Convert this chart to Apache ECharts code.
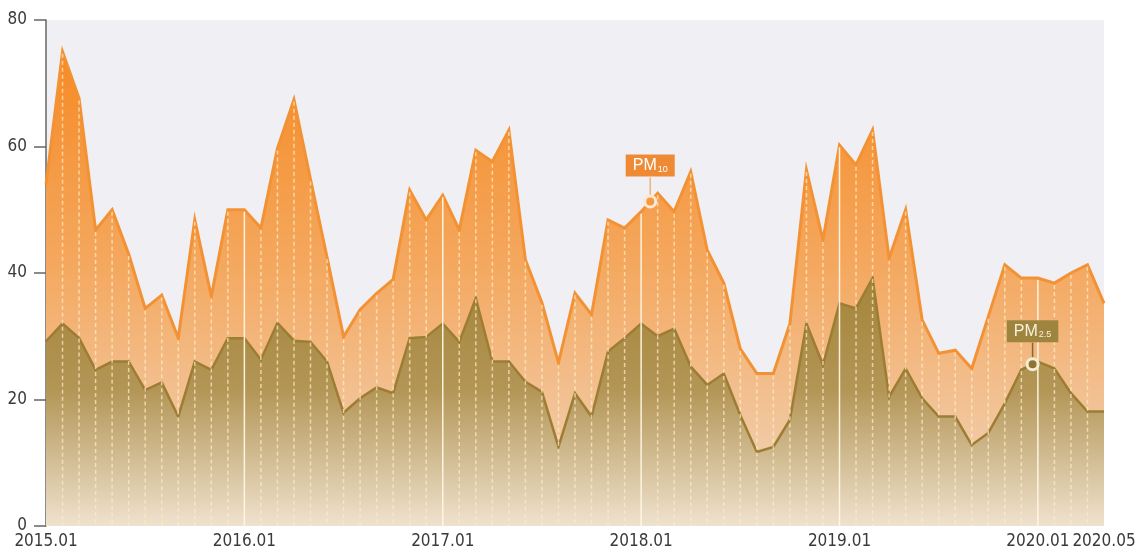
<!DOCTYPE html>
<html>
<head>
<meta charset="utf-8">
<script src="https://cdn.jsdelivr.net/npm/echarts@6/dist/echarts.min.js"></script>
<style>
  html, body { margin: 0; padding: 0; background: #ffffff; }
  #chart { width: 1139px; height: 554px; }
</style>
</head>
<body>
<div id="chart"></div>
<script>
// Monthly labels, 2015.01 – 2020.05
const months = [];
for (let y = 2015; y <= 2020; y++) {
  for (let m = 1; m <= 12; m++) {
    if (y === 2020 && m > 5) break;
    months.push(y + '.' + String(m).padStart(2, '0'));
  }
}

// Monthly mean concentrations (µg/m³)
const pm10 = [
  54, 75, 67.6, 46.8, 50, 43, 34.4, 36.5, 29.7, 48.4, 36.3, 50,
  50, 47.1, 59.7, 67.4, 54.8, 42.5, 29.9, 34.2, 36.8, 39, 53.1, 48.4,
  52.3, 46.8, 59.4, 57.6, 62.6, 42.1, 35.3, 25.8, 36.8, 33.4, 48.4, 47.1,
  49.7, 52.6, 49.7, 56, 43.6, 38.4, 28, 24.1, 24.1, 32, 56.3, 45.2,
  60.2, 57.1, 62.6, 42.3, 50, 32.6, 27.3, 27.8, 24.9, 33.1, 41.3, 39.2,
  39.2, 38.4, 40, 41.3, 35.2
];
const pm25 = [
  29.2, 32, 29.7, 24.7, 26, 26, 21.5, 22.7, 17.3, 26, 24.7, 29.7,
  29.7, 26.3, 32.1, 29.3, 29.1, 26, 17.9, 20.2, 21.9, 21, 29.7, 29.9,
  32, 29.1, 36, 26, 26, 22.8, 21.2, 12.5, 21, 17.3, 27.6, 29.7,
  32, 30, 31.2, 25.2, 22.3, 24.1, 17.5, 11.7, 12.5, 16.8, 32, 25.5,
  35.2, 34.4, 39.2, 20.4, 24.9, 20.2, 17.3, 17.3, 12.8, 14.7, 19.4, 24.7,
  26, 24.9, 21, 18.1, 18.1
];

const tickMonths = ['2015.01', '2016.01', '2017.01', '2018.01', '2019.01', '2020.01', '2020.05'];
const yTicks = [0, 20, 40, 60, 80];

// where the series tags sit along the time axis (month index)
const tagPos = { pm10: 36.55, pm25: 59.68 };

function valueAt(arr, x) {
  const i = Math.floor(x), t = x - i;
  if (i >= arr.length - 1) return arr[arr.length - 1];
  return arr[i] + (arr[i + 1] - arr[i]) * t;
}

const narrow = '"Liberation Sans Narrow", "DejaVu Sans Condensed", "Liberation Sans", sans-serif';
const tagFont = '"Liberation Sans", Arial, sans-serif';
const tickIdx = tickMonths.map(m => months.indexOf(m));

function tag(pos, arr, opts) {
  const v = valueAt(arr, pos);
  return [
    {
      coord: [pos, v], symbol: 'rect', symbolSize: [1.5, opts.stem],
      symbolOffset: [0, -opts.stemOffset],
      itemStyle: { color: opts.stemColor },
      label: { show: false }
    },
    {
      coord: [pos, v], symbol: 'circle', symbolSize: opts.ring,
      itemStyle: { color: opts.dot, borderColor: opts.ringColor, borderWidth: 3 },
      label: {
        show: true, position: 'top', distance: opts.distance,
        formatter: '{a|PM}{b|' + opts.sub + '}',
        backgroundColor: opts.box, padding: [3, 7, 3, 7],
        rich: {
          a: { fontSize: 16, lineHeight: 16, color: opts.text, fontFamily: tagFont },
          b: { fontSize: 9, lineHeight: 16, color: opts.text, verticalAlign: 'bottom', padding: [6, 0, 0, 1], fontFamily: tagFont }
        }
      }
    }
  ];
}

const chart = echarts.init(document.getElementById('chart'), null, { renderer: 'canvas' });

chart.setOption({
  animation: false,
  backgroundColor: '#ffffff',
  grid: {
    left: 46, right: 35, top: 20, bottom: 28,
    show: true, backgroundColor: '#f0f0f4', borderWidth: 0
  },
  xAxis: {
    type: 'value',
    min: 0,
    max: months.length - 1,
    axisLine: { show: false },
    axisTick: { show: false },
    splitLine: { show: false },
    axisLabel: {
      customValues: tickIdx,
      formatter: v => months[v],
      color: '#3a3a3a',
      fontSize: 17,
      fontFamily: narrow,
      margin: 7
    }
  },
  yAxis: {
    type: 'value',
    min: yTicks[0],
    max: yTicks[yTicks.length - 1],
    interval: 20,
    axisLine: { show: true, lineStyle: { color: '#666666', width: 1.5 } },
    axisTick: { show: true, length: 12, lineStyle: { color: '#666666', width: 1.5 } },
    splitLine: { show: false },
    axisLabel: { color: '#3a3a3a', fontSize: 17, fontFamily: narrow, margin: 19 }
  },
  series: [
    {
      name: 'PM10',
      type: 'line',
      data: pm10.map((v, i) => [i, v]),
      symbol: 'none',
      z: 2,
      lineStyle: { color: '#f39234', width: 3, join: 'miter' },
      areaStyle: {
        opacity: 1,
        color: new echarts.graphic.LinearGradient(0, 0, 0, 1, [
          { offset: 0, color: '#f68a25' },
          { offset: 0.45, color: '#f4a85f' },
          { offset: 1, color: '#f0d8c2' }
        ])
      },
      markPoint: {
        silent: true,
        animation: false,
        data: tag(tagPos.pm10, pm10, {
          sub: '10', stem: 18, stemOffset: 15, stemColor: '#f0b27a',
          ring: 11, dot: '#f29a45', ringColor: '#fbe7d2',
          distance: 18, box: '#ef8a34', text: '#ffffff'
        })
      }
    },
    {
      name: 'PM2.5',
      type: 'line',
      data: pm25.map((v, i) => [i, v]),
      symbol: 'none',
      z: 3,
      lineStyle: { color: '#9c7d33', width: 2.5, join: 'miter' },
      areaStyle: {
        opacity: 1,
        color: new echarts.graphic.LinearGradient(0, 0, 0, 1, [
          { offset: 0, color: '#a4853a' },
          { offset: 0.45, color: '#b39556' },
          { offset: 1, color: '#efe2ce' }
        ])
      },
      markPoint: {
        silent: true,
        animation: false,
        data: tag(tagPos.pm25, pm25, {
          sub: '2.5', stem: 15, stemOffset: 14, stemColor: '#7f6a35',
          ring: 11, dot: '#8f7535', ringColor: '#f4edd2',
          distance: 15, box: '#9f8440', text: '#f8f1dc'
        })
      }
    },
    {
      // month guides under the PM10 outline: dashed, solid at each January
      name: 'guides',
      type: 'custom',
      silent: true,
      z: 4,
      data: pm10.map((v, i) => [i, v]),
      encode: { x: 0, y: 1 },
      renderItem: function (params, api) {
        const i = api.value(0);
        if (i === 0 || i === months.length - 1) return;
        const top = api.coord([i, api.value(1)]);
        const bottom = api.coord([i, 0]);
        const isYear = months[i].endsWith('.01');
        return {
          type: 'line',
          shape: { x1: top[0], y1: top[1] + 2, x2: bottom[0], y2: bottom[1] },
          style: {
            stroke: isYear ? 'rgba(255,247,228,0.95)' : 'rgba(255,236,196,0.72)',
            lineWidth: 1.5,
            lineDash: isYear ? null : [4, 3]
          }
        };
      }
    }
  ]
});
</script>
</body>
</html>
